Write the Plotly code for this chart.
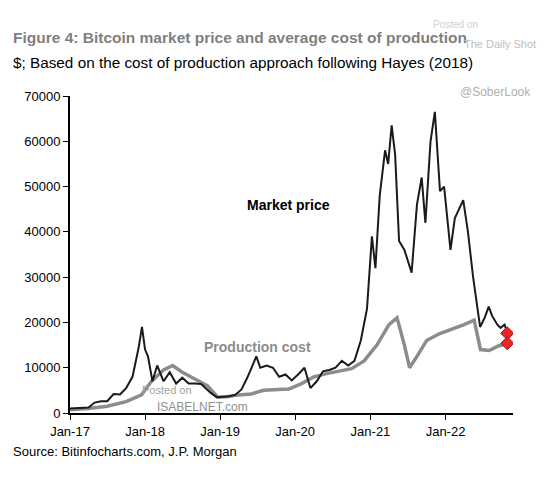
import plotly.graph_objects as go

price_dates = ["2017-01-01","2017-02-01","2017-03-01","2017-04-01","2017-05-01","2017-06-01","2017-07-01","2017-08-01","2017-09-01","2017-10-01","2017-11-01","2017-12-01","2017-12-17","2018-01-01","2018-01-15","2018-02-06","2018-03-01","2018-04-01","2018-05-01","2018-06-01","2018-07-01","2018-08-01","2018-09-01","2018-10-01","2018-11-15","2018-12-15","2019-01-15","2019-02-15","2019-03-15","2019-04-15","2019-05-15","2019-06-26","2019-07-15","2019-08-15","2019-09-15","2019-10-15","2019-11-15","2019-12-15","2020-01-15","2020-02-15","2020-03-15","2020-04-15","2020-05-15","2020-06-15","2020-07-15","2020-08-15","2020-09-15","2020-10-15","2020-11-15","2020-12-15","2021-01-08","2021-01-25","2021-02-15","2021-03-13","2021-03-28","2021-04-14","2021-05-01","2021-05-20","2021-06-15","2021-07-20","2021-08-15","2021-09-07","2021-09-25","2021-10-20","2021-11-10","2021-12-05","2021-12-25","2022-01-25","2022-02-15","2022-03-28","2022-04-20","2022-05-15","2022-06-18","2022-07-10","2022-07-30","2022-08-15","2022-09-10","2022-09-25","2022-10-15","2022-10-28"]
price = [1000,1100,1200,1200,2300,2600,2600,4200,4100,5500,8000,14500,19000,14000,12500,7000,10500,7000,9000,6500,7800,6500,6500,6400,4500,3500,3600,3700,4000,5200,8000,12500,10000,10500,10000,8000,8500,7200,8500,10000,5500,7000,9200,9500,10000,11500,10500,11500,16000,23000,39000,32000,48000,58000,55000,63500,57000,38000,36000,31000,46000,52000,42000,60000,66500,49000,50000,36000,43000,47000,40000,30000,19000,21000,23500,21500,19500,18800,19500,17800]

cost_dates = ["2017-01-01","2017-04-01","2017-07-01","2017-10-01","2017-12-15","2018-02-01","2018-04-01","2018-05-15","2018-07-01","2018-09-01","2018-11-01","2018-12-20","2019-02-01","2019-04-01","2019-06-01","2019-08-01","2019-10-01","2019-12-01","2020-02-01","2020-04-01","2020-06-01","2020-08-01","2020-10-01","2020-12-01","2021-02-01","2021-04-01","2021-05-10","2021-06-15","2021-07-10","2021-08-15","2021-10-01","2021-12-01","2022-02-01","2022-04-01","2022-05-20","2022-06-20","2022-08-01","2022-09-15","2022-10-28"]
cost = [700,1000,1500,2500,4000,7000,9500,10500,9000,7500,6000,3500,3600,4000,4200,5000,5200,5300,6500,8000,8700,9200,9800,11500,15000,19500,21000,15000,10000,12500,16000,17500,18500,19500,20500,14000,13800,14800,15400]

mk_dates = ["2022-10-28","2022-10-28"]
mk_vals = [17600, 15400]
ticks = ["2017-01-01","2018-01-01","2019-01-01","2020-01-01","2021-01-01","2022-01-01"]
tick_text = ["Jan-17","Jan-18","Jan-19","Jan-20","Jan-21","Jan-22"]

F = "Liberation Sans, Arial"
fig = go.Figure()
fig.add_trace(go.Scatter(x=cost_dates, y=cost, mode="lines", line=dict(color="#8c8c8c", width=3.5)))
fig.add_trace(go.Scatter(x=price_dates, y=price, mode="lines", line=dict(color="#1a1a1a", width=2)))
fig.add_trace(go.Scatter(x=mk_dates, y=mk_vals, mode="markers",
                         marker=dict(symbol="diamond", size=10, color="#e8262a", line=dict(color="#b01010", width=1))))

def pa(text, x, y, size, color, xanchor="left"):
    return dict(x=x, y=y, xref="paper", yref="paper", text=text, showarrow=False,
                xanchor=xanchor, yanchor="middle", font=dict(size=size, color=color, family=F))

fig.update_layout(
    width=560, height=480, showlegend=False, plot_bgcolor="white", paper_bgcolor="white",
    margin=dict(l=62, r=55, t=88, b=75),
    font=dict(family=F, size=13, color="black"),
    xaxis=dict(range=["2017-01-01", "2022-11-25"], tickvals=ticks, ticktext=tick_text, automargin=False,
               showline=True, linecolor="black", linewidth=2, ticks="outside", ticklen=5,
               tickcolor="black", showgrid=False, zeroline=False),
    yaxis=dict(range=[0, 70000], dtick=10000, showline=True, linecolor="black", linewidth=2, automargin=False,
               ticks="outside", ticklen=5, tickcolor="black", showgrid=False, zeroline=False,
               tickformat="d"),
    annotations=[
        pa("<b>Figure 4: Bitcoin market price and average cost of production</b>", -0.133, 1.186, 15.5, "#7f7f7f"),
        pa("$; Based on the cost of production approach following Hayes (2018)", -0.133, 1.107, 15.3, "black"),
        pa("Source: Bitinfocharts.com, J.P. Morgan", -0.133, -0.123, 13, "black"),
        dict(x="2019-12-01", y=46000, text="<b>Market price</b>", showarrow=False, font=dict(size=14, color="black", family=F)),
        dict(x="2019-07-01", y=14500, text="<b>Production cost</b>", showarrow=False, font=dict(size=14, color="#8c8c8c", family=F)),
        pa("Posted on", 0.87, 1.225, 10, "#d0d0d0", "center"),
        pa("The Daily Shot", 0.97, 1.165, 11, "#c0c0c0", "center"),
        pa("@SoberLook", 0.96, 1.013, 12, "#b0b0b0", "center"),
        pa("Posted on", 0.22, 0.073, 11, "#a0a0a0", "center"),
        pa("ISABELNET.com", 0.30, 0.02, 12, "#909090", "center"),
    ],
)
fig.write_html("out.html")
